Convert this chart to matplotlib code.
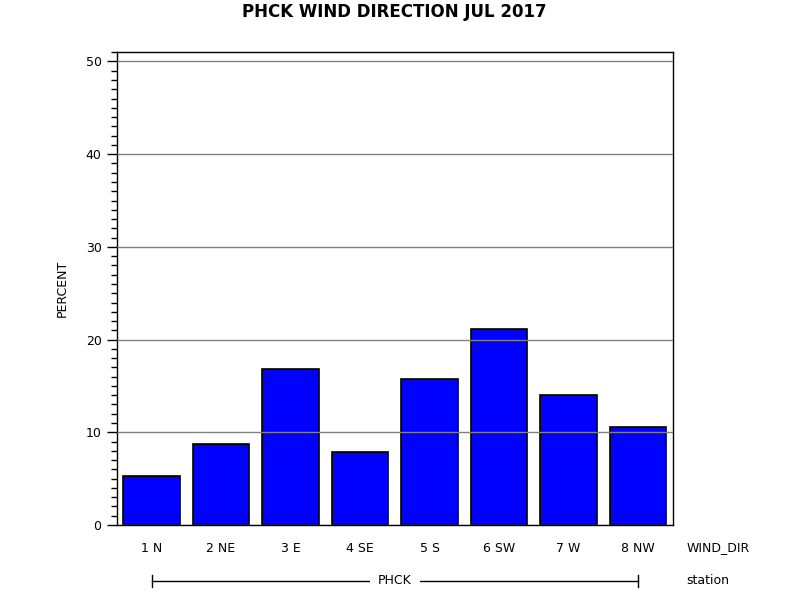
import matplotlib.pyplot as plt
from matplotlib.ticker import MultipleLocator

# wind direction frequencies for PHCK, Jul 2017
wind_dir = ['1 N', '2 NE', '3 E', '4 SE', '5 S', '6 SW', '7 W', '8 NW']
percent = [5.3, 8.7, 16.8, 7.9, 15.8, 21.1, 14.0, 10.6]
station = 'PHCK'

fig = plt.figure(figsize=(8, 6), dpi=100)
ax = fig.add_axes([0.146, 0.125, 0.695, 0.788])

x = range(len(wind_dir))
ax.bar(x, percent, width=0.81, color='#0000ff', edgecolor='black', linewidth=1.2, zorder=2)

ax.set_xlim(-0.5, len(wind_dir) - 0.5)
ax.set_ylim(0, 51)
ax.yaxis.set_major_locator(MultipleLocator(10))
ax.yaxis.set_minor_locator(MultipleLocator(1))
ax.grid(axis='y', color='#808080', linewidth=1, zorder=3)
ax.set_axisbelow(False)
ax.tick_params(axis='y', which='major', length=7, width=1, labelsize=9, pad=4)
ax.tick_params(axis='y', which='minor', length=4, width=1)
ax.set_xticks(list(x))
ax.set_xticklabels(wind_dir, fontsize=9)
ax.tick_params(axis='x', length=0, pad=12)
for s in ax.spines.values():
    s.set_linewidth(1)

ax.set_ylabel('PERCENT', fontsize=9, labelpad=12)
ax.set_title('PHCK WIND DIRECTION JUL 2017', fontsize=12, fontweight='bold', pad=25)

# group labels under the axis
tr = ax.get_xaxis_transform()
ax.text(1.025, -0.0485, 'WIND_DIR', transform=ax.transAxes, fontsize=9, va='center', ha='left')
ax.text(1.025, -0.118, 'station', transform=ax.transAxes, fontsize=9, va='center', ha='left')
ax.plot([0, 7], [-0.118, -0.118], color='black', linewidth=1, transform=tr, clip_on=False)
ax.plot([0, 0], [-0.105, -0.131], color='black', linewidth=1, transform=tr, clip_on=False)
ax.plot([7, 7], [-0.105, -0.131], color='black', linewidth=1, transform=tr, clip_on=False)
ax.text(3.5, -0.118, station, transform=tr, fontsize=9, ha='center', va='center',
        bbox=dict(facecolor='white', edgecolor='none', pad=6))

plt.savefig('out.png')
